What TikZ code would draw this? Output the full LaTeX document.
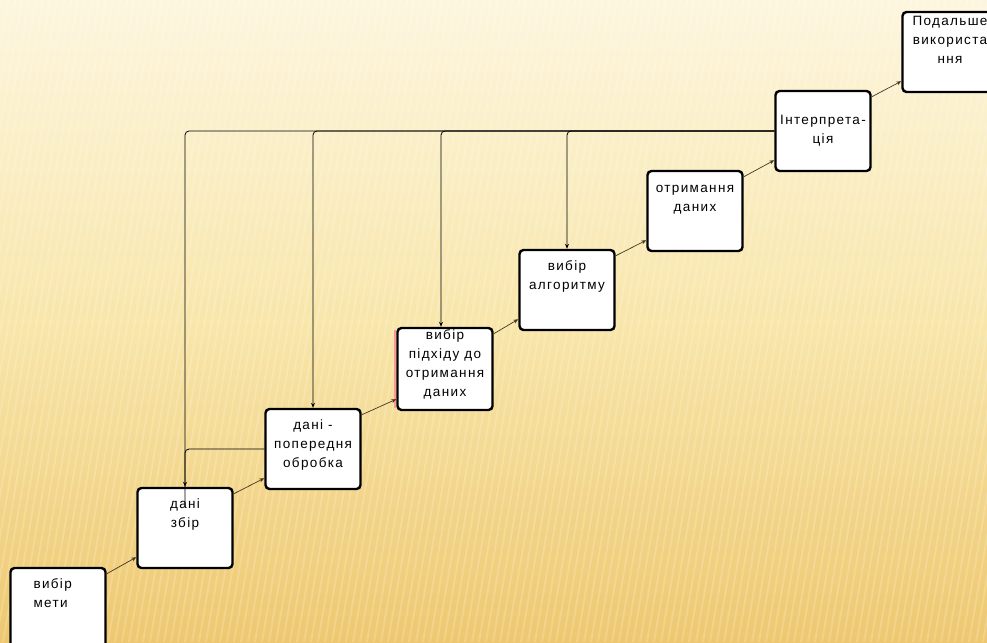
\documentclass[tikz,border=0pt]{standalone}
\usepackage{fontspec}
\setmainfont{Liberation Sans}[LetterSpace=10]
\usepackage{tikz}
\usetikzlibrary{arrows.meta,positioning}
\definecolor{bgcream}{RGB}{253, 246, 222}
\definecolor{bgmid}{RGB}{248, 230, 170}
\definecolor{bggold}{RGB}{238, 200, 112}
\definecolor{linkbrown}{RGB}{70, 55, 30}
\tikzset{
    stepbox/.style={draw=black, line width=2.4pt, fill=white, rounded corners=4pt,
        minimum width=95pt, minimum height=80pt, inner sep=0pt},
    steptext/.style={align=center, font=\fontsize{13.5}{19}\selectfont, inner sep=0pt, anchor=north},
    link/.style={draw=linkbrown, line width=0.7pt, -{Stealth[length=5pt,width=4pt]}},
    feedback/.style={draw=black, line width=0.8pt, rounded corners=4pt, -{Stealth[length=5pt,width=4pt]}}
}

\begin{document}
\begin{tikzpicture}[x=1pt, y=-1pt]
    % Background
    \useasboundingbox (0,0) rectangle (987,642);
    \clip (0,0) rectangle (987,642);
    \shade[top color=bgcream, bottom color=bggold, middle color=bgmid] (0,0) rectangle (987,642);
    \foreach \x in {-200,-193,...,1000} {
        \draw[white, opacity=0.18, line width=2pt] (\x+110,0) -- (\x,642);
    }

    % Steps
    \node[stepbox] (goal) at (58,608) {};
    \node[stepbox] (collect) at (185,528) {};
    \node[stepbox] (prep) at (313,449) {};
    \node[stepbox, minimum height=82pt] (approach) at (445,369) {};
    \node[stepbox] (algo) at (567,290) {};
    \node[stepbox] (mining) at (695,211) {};
    \node[stepbox] (interp) at (823,131) {};
    \node[stepbox] (use) at (950,52) {};
    \draw[red!40, line width=1.5pt] ([xshift=-1.5pt, yshift=-3pt]approach.north west) -- ([xshift=-1.5pt, yshift=3pt]approach.south west);

    % Texts
    \node[steptext, align=left, anchor=north west] (goaltxt) at ([xshift=24pt, yshift=-12pt]goal.north west) {вибір\\мети};
    \node[steptext] (collecttxt) at ([yshift=-12pt]collect.north) {дані\\збір};
    \node[steptext] (preptxt) at ([yshift=-12pt]prep.north) {дані -\\попередня\\обробка};
    \node[steptext] (approachtxt) at ([yshift=-3pt]approach.north) {вибір\\підхіду до\\отримання\\даних};
    \node[steptext] (algotxt) at ([yshift=-12pt]algo.north) {вибір\\алгоритму};
    \node[steptext] (miningtxt) at ([yshift=-15pt]mining.north) {отримання\\даних};
    \node[steptext] (interptxt) at ([yshift=-25pt]interp.north) {Інтерпрета-\\ція};
    \node[steptext] (usetxt) at ([yshift=-5pt]use.north) {Подальше\\використа\\ння};

    % Forward links
    \draw[link] ([yshift=-7pt]goal.north east) -- ([yshift=12pt]collect.south west);
    \draw[link] ([yshift=-7pt]collect.north east) -- ([yshift=12pt]prep.south west);
    \draw[link] ([yshift=-7pt]prep.north east) -- ([yshift=12pt]approach.south west);
    \draw[link] ([yshift=-7pt]approach.north east) -- ([yshift=12pt]algo.south west);
    \draw[link] ([yshift=-7pt]algo.north east) -- ([yshift=12pt]mining.south west);
    \draw[link] ([yshift=-7pt]mining.north east) -- ([yshift=12pt]interp.south west);
    \draw[link] ([yshift=-7pt]interp.north east) -- ([yshift=12pt]use.south west);

    % Feedback from interpretation
    \draw[feedback] (interp.west) -- (collect.north |- interp.west) -- (collect.north);
    \draw[feedback] (interp.west) -- (prep.north |- interp.west) -- (prep.north);
    \draw[feedback] (interp.west) -- ([xshift=-4pt]approach.north |- interp.west) -- ([xshift=-4pt]approach.north);
    \draw[feedback] (interp.west) -- (algo.north |- interp.west) -- (algo.north);
    \draw[feedback, -] (prep.west) -- (collect.north |- prep.west) -- ([yshift=-20pt]collect.north);
\end{tikzpicture}
\end{document}
